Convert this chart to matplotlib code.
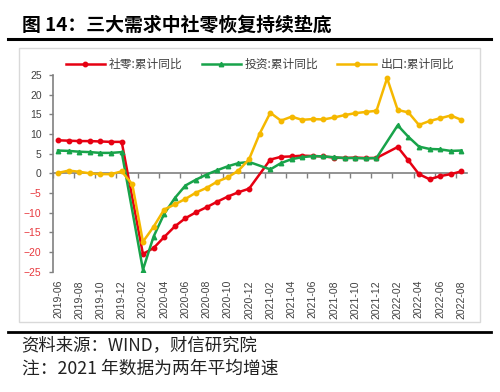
import numpy as np
import pandas as pd
import matplotlib.pyplot as plt
from matplotlib.patches import Rectangle
from matplotlib.lines import Line2D

plt.rcParams['font.family'] = ['Liberation Sans', 'Noto Sans CJK SC']

# data (cumulative yoy, %, 2021 = two-year average); Jan missing for retail / investment
months = list(pd.period_range('2019-06', '2022-08', freq='M').strftime('%Y-%m'))
nan = np.nan
retail = [8.4, 8.3, 8.2, 8.2, 8.1, 8.0, 8.0,
          nan,
          -20.5, -19.0, -16.2, -13.5, -11.4, -9.9, -8.6, -7.2, -5.9, -4.8, -3.9,
          nan,
          3.5, 4.2, 4.3, 4.5, 4.4, 4.3, 4.0, 3.9, 4.0, 3.9, 3.9,
          nan,
          6.7, 3.3, -0.2, -1.5, -0.7, -0.2, 0.5]
invest = [5.8, 5.7, 5.5, 5.4, 5.2, 5.2, 5.4,
          nan,
          -24.5, -16.1, -10.3, -6.3, -3.1, -1.6, -0.3, 0.8, 1.8, 2.6, 2.9,
          nan,
          1.0, 2.6, 3.6, 4.1, 4.4, 4.3, 4.1, 3.9, 3.9, 3.8, 3.9,
          nan,
          12.2, 9.3, 6.8, 6.2, 6.1, 5.7, 5.8]
export = [0.1, 0.7, 0.4, 0.0, -0.2, -0.2, 0.5,
          -2.8,
          -17.4, -13.6, -9.2, -7.9, -6.5, -4.9, -3.7, -2.1, -1.0, 0.7, 3.6,
          10.1,
          15.4, 13.4, 14.4, 13.6, 13.8, 13.7, 14.2, 14.8, 15.3, 15.6, 15.9,
          24.2,
          16.1, 15.5, 12.3, 13.3, 14.0, 14.7, 13.6]
labels = ['社零:累计同比', '投资:累计同比', '出口:累计同比']
colors = ['#e60012', '#18a34a', '#f5b800']
markers = ['o', '^', 'o']

fig = plt.figure(figsize=(5, 3.92), dpi=100)
ax = fig.add_axes([0.1054, 0.3069, 0.828, 0.5018])

x = np.arange(len(months))
for s, lab, c, mk in zip([retail, invest, export], labels, colors, markers):
    s = np.array(s, dtype=float)
    m = ~np.isnan(s)
    ax.plot(x[m], s[m], color=c, lw=1.8, marker=mk, ms=3.2, label=lab)

ax.set_xlim(-0.5, len(months) - 0.5)
ax.set_ylim(-25, 25)
ax.set_yticks(np.arange(-25, 26, 5))
ax.tick_params(axis='y', direction='out', length=3, width=1, color='#808080',
               labelsize=7.5, pad=5)
for t, v in zip(ax.get_yticklabels(), np.arange(-25, 26, 5)):
    t.set_color('#e8383d' if v < 0 else '#404040')

ax.set_xticks(x[::2])
ax.set_xticklabels(months[::2], rotation=90, fontsize=7.5, color='#404040')
ax.tick_params(axis='x', length=0, pad=6)

for sp in ['top', 'right', 'bottom']:
    ax.spines[sp].set_visible(False)
ax.spines['left'].set_color('#808080')
ax.spines['left'].set_linewidth(1.2)

# zero line with tick marks pointing down
sec = ax.secondary_xaxis(0.5)
sec.set_alignment('bottom')
sec.set_xticks(np.arange(-0.5, len(months), 2))
sec.tick_params(direction='out', length=3.5, width=1, color='#808080',
                labelbottom=False, labeltop=False)
sec.spines['bottom'].set_color('#808080')
sec.spines['bottom'].set_linewidth(1.2)
sec.spines['top'].set_visible(False)

fig.legend(loc='center', bbox_to_anchor=(0.52, 0.836), ncol=3, frameon=False,
           prop={'family': ['Noto Sans CJK SC', 'DejaVu Sans'], 'size': 8.5},
           handlelength=3.3, handletextpad=0.35, columnspacing=1.6,
           labelcolor='#404040')

# chart frame and rules
fig.patches.append(Rectangle((0.0386, 0.1793), 0.9214, 0.699, transform=fig.transFigure,
                             fill=False, ec='#d9d9d9', lw=1))
fig.add_artist(Line2D([0.016, 0.982], [0.8997, 0.8997], color='black', lw=2.2))
fig.add_artist(Line2D([0.016, 0.982], [0.1538, 0.1538], color='black', lw=2))

fig.text(0.043, 0.935, '图 14：三大需求中社零恢复持续垫底', fontsize=13.6, fontweight='bold',
         family=['Noto Sans CJK SC', 'DejaVu Sans'], va='center', ha='left')
fig.text(0.043, 0.12, '资料来源：WIND，财信研究院', fontsize=12.5, style='italic',
         family=['Noto Sans CJK SC', 'DejaVu Serif'], va='center', ha='left', color='#222222')
fig.text(0.043, 0.0605, '注：2021 年数据为两年平均增速', fontsize=12.8, style='italic',
         family=['Noto Sans CJK SC', 'DejaVu Serif'], va='center', ha='left', color='#222222')

fig.savefig('out.png', dpi=100)
